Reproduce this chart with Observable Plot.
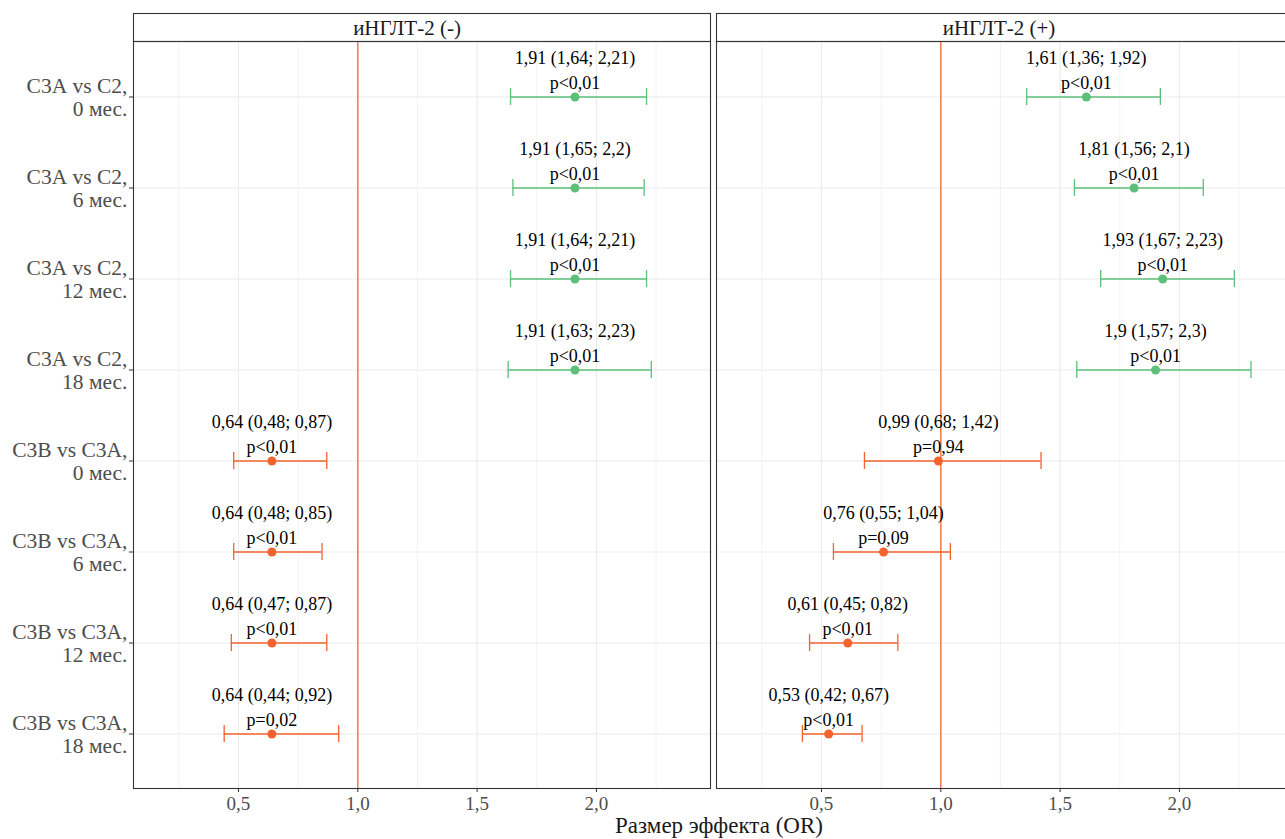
<!DOCTYPE html>
<html>
<head>
<meta charset="utf-8">
<script src="https://cdn.jsdelivr.net/npm/d3@7"></script>
<script src="https://cdn.jsdelivr.net/npm/@observablehq/plot@0.6"></script>
<style>
  html, body { margin: 0; padding: 0; background: #fff; overflow: hidden; }
  #wrap { width: 1293px; font-family: "Liberation Serif", "Times New Roman", serif; }
  #wrap svg { display: block; }
  #xlabel { margin-left: 139px; width: 1160px; text-align: center; font-size: 23px; line-height: 28px; color: #1a1a1a; }
</style>
</head>
<body>
<div id="wrap"></div>
<script>
const facets = ["иНГЛТ-2 (-)", "иНГЛТ-2 (+)"];
const comparisons = [
  "С3А vs С2,\n0 мес.", "С3А vs С2,\n6 мес.", "С3А vs С2,\n12 мес.", "С3А vs С2,\n18 мес.",
  "С3В vs С3А,\n0 мес.", "С3В vs С3А,\n6 мес.", "С3В vs С3А,\n12 мес.", "С3В vs С3А,\n18 мес."
];
const groups = ["С3А vs С2", "С3А vs С2", "С3А vs С2", "С3А vs С2", "С3В vs С3А", "С3В vs С3А", "С3В vs С3А", "С3В vs С3А"];

// иНГЛТ-2 (-)
const orMinus = [1.91, 1.91, 1.91, 1.91, 0.64, 0.64, 0.64, 0.64];
const loMinus = [1.64, 1.65, 1.64, 1.63, 0.48, 0.48, 0.47, 0.44];
const hiMinus = [2.21, 2.2, 2.21, 2.23, 0.87, 0.85, 0.87, 0.92];
const pMinus = ["p<0,01", "p<0,01", "p<0,01", "p<0,01", "p<0,01", "p<0,01", "p<0,01", "p=0,02"];

// иНГЛТ-2 (+)
const orPlus = [1.61, 1.81, 1.93, 1.9, 0.99, 0.76, 0.61, 0.53];
const loPlus = [1.36, 1.56, 1.67, 1.57, 0.68, 0.55, 0.45, 0.42];
const hiPlus = [1.92, 2.1, 2.23, 2.3, 1.42, 1.04, 0.82, 0.67];
const pPlus = ["p<0,01", "p<0,01", "p<0,01", "p<0,01", "p=0,94", "p=0,09", "p<0,01", "p<0,01"];

const xTicks = [0.5, 1.0, 1.5, 2.0];
const xMinor = [0.25, 0.75, 1.25, 1.75, 2.25];

const colorDomain = ["С3А vs С2", "С3В vs С3А"];
const colorRange = ["#5dbf7a", "#f4622d"];
const refColor = "#f47a4c";

const fmt = v => String(v).replace(".", ",");

const rows = [];
[[facets[0], orMinus, loMinus, hiMinus, pMinus], [facets[1], orPlus, loPlus, hiPlus, pPlus]].forEach(([f, or, lo, hi, p]) => {
  comparisons.forEach((c, i) => {
    rows.push({facet: f, comp: c, group: groups[i], or: or[i], lo: lo[i], hi: hi[i],
      label: `${fmt(or[i])} (${fmt(lo[i])}; ${fmt(hi[i])})\n${p[i]}`});
  });
});

const W = 1293, ML = 133, H = 771, MB = 24;
const panelH = H - MB;
const bandW = panelH / (comparisons.length + 0.2);
const capInset = (bandW - 17) / 2;
const fxOpts = {domain: facets, paddingInner: 6 / 583, paddingOuter: 0, axis: null};

const strip = Plot.plot({
  width: W, height: 41, marginTop: 13, marginBottom: 0, marginLeft: ML, marginRight: 0,
  style: {fontFamily: "Liberation Serif, serif", background: "white", overflow: "visible"},
  fx: fxOpts,
  marks: [
    Plot.frame({stroke: "#333", strokeWidth: 1.1}),
    Plot.text([facets[0]], {fx: d => d, text: d => d, frameAnchor: "middle", fontSize: 21, fill: "#1a1a1a", dy: 1, dx: -15}),
    Plot.text([facets[1]], {fx: d => d, text: d => d, frameAnchor: "middle", fontSize: 21, fill: "#1a1a1a", dy: 1, dx: -6})
  ]
});

const main = Plot.plot({
  width: W, height: H, marginTop: 0, marginBottom: MB, marginLeft: ML, marginRight: 0,
  style: {fontFamily: "Liberation Serif, serif", background: "white", overflow: "visible"},
  fx: fxOpts,
  x: {domain: [0.06, 2.478]},
  y: {type: "band", domain: comparisons, paddingInner: 0, paddingOuter: 0.1},
  color: {domain: colorDomain, range: colorRange},
  marks: [
    Plot.gridX(xMinor, {stroke: "#ebebeb", strokeOpacity: 1, strokeWidth: 0.6}),
    Plot.gridX(xTicks, {stroke: "#ebebeb", strokeOpacity: 1, strokeWidth: 1.1}),
    Plot.gridY(comparisons, {stroke: "#ebebeb", strokeOpacity: 1, strokeWidth: 1.1}),
    Plot.ruleX([1], {stroke: refColor, strokeWidth: 1.5}),
    Plot.ruleY(rows, {fx: "facet", y: "comp", x1: "lo", x2: "hi", stroke: "group", strokeWidth: 1.3}),
    Plot.tickX(rows, {fx: "facet", y: "comp", x: "lo", stroke: "group", strokeWidth: 1.3, insetTop: capInset, insetBottom: capInset}),
    Plot.tickX(rows, {fx: "facet", y: "comp", x: "hi", stroke: "group", strokeWidth: 1.3, insetTop: capInset, insetBottom: capInset}),
    Plot.dot(rows, {fx: "facet", y: "comp", x: "or", fill: "group", r: 4.5, stroke: null}),
    Plot.text(rows, {fx: "facet", y: "comp", x: "or", text: "label", lineAnchor: "bottom", dy: -8, fontSize: 18, lineHeight: 1.39, fill: "black"}),
    Plot.frame({stroke: "#333", strokeWidth: 1.1}),
    Plot.axisX({ticks: xTicks, tickFormat: d => d.toFixed(1).replace(".", ","), tickSize: 4, tickPadding: 4, fontSize: 19, fill: "#4d4d4d", stroke: "#333", label: null}),
    Plot.axisY({tickSize: 4, tickPadding: 2, fontSize: 21.5, lineHeight: 1.07, fill: "#4d4d4d", stroke: "#333", label: null})
  ]
});

const wrap = document.getElementById("wrap");
wrap.appendChild(strip);
wrap.appendChild(main);
const cap = document.createElement("div");
cap.id = "xlabel";
cap.textContent = "Размер эффекта (OR)";
wrap.appendChild(cap);
</script>
</body>
</html>
